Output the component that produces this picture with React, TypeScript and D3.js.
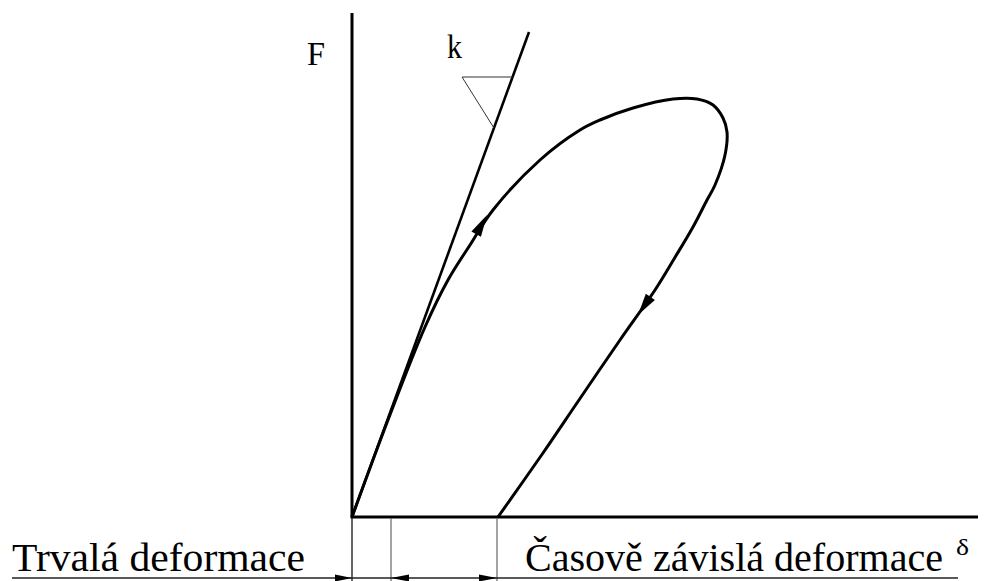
import React from "react";
import * as d3 from "d3";

// loading branch (δ, F)
const loadDelta = [0, 3.6, 7.3, 9.6, 11.8, 14.1, 18.8, 22.8, 24.8, 28.1, 32.1, 34.5, 36.1, 37.1, 37.5, 37.3, 36.3, 35.5, 34.1, 32.2, 30.3];
const loadForce = [0, 9.7, 19.0, 23.7, 27.2, 30.7, 35.7, 38.7, 39.7, 40.9, 41.8, 41.8, 41.2, 39.9, 38.5, 36.2, 33.2, 31.7, 29.0, 25.8, 22.7];
// unloading branch
const unloadDelta = [30.3, 26.8, 22.7, 19.1, 14.6];
const unloadForce = [22.7, 17.7, 11.7, 6.4, 0];
// tangent line k
const tangentDelta = [0, 17.7];
const tangentForce = [0, 48.5];
// slope triangle
const triDelta = [11.0];
const triForce = [44.0, 38.9];
// dimension marks on δ axis
const dimMarks = [0, 3.9, 14.5];
// arrows on curve: [tipδ, tipF, backδ, backF]
const arrowTips = [
  [13.5, 30.2, 11.8, 27.2],
  [28.6, 20.2, 30.3, 22.7],
];

const W = 992;
const H = 581;

export default function App() {
  const x = d3.scaleLinear().domain([0, 62.6]).range([352, 978]);
  const y = d3.scaleLinear().domain([0, 50.4]).range([517, 13]);

  const loadPts: [number, number][] = loadDelta.map((d, i) => [d, loadForce[i]]);
  const unloadPts: [number, number][] = unloadDelta.map((d, i) => [d, unloadForce[i]]);
  const allPts = loadPts.concat(unloadPts.slice(1));
  const line = d3
    .line<[number, number]>()
    .x((d) => x(d[0]))
    .y((d) => y(d[1]))
    .curve(d3.curveCatmullRom.alpha(0.5));

  const tanAt = (f: number) => (tangentDelta[1] * f) / tangentForce[1];

  const arrowPath = (tx: number, ty: number, bx: number, by: number, len: number, hw: number) => {
    const dx = tx - bx;
    const dy = ty - by;
    const L = Math.hypot(dx, dy);
    const ux = dx / L;
    const uy = dy / L;
    const px = -uy;
    const py = ux;
    const cx = tx - ux * len;
    const cy = ty - uy * len;
    return `M${tx},${ty}L${cx + px * hw},${cy + py * hw}L${cx - px * hw},${cy - py * hw}Z`;
  };

  const dimY = 578;
  const font = "'Liberation Serif', 'Times New Roman', serif";

  return (
    <svg width={W} height={H} style={{ position: "absolute", left: 0, top: 0, background: "#fff" }}>
      {/* axes */}
      <line x1={x(0)} y1={y(50.4)} x2={x(0)} y2={y(0)} stroke="#000" strokeWidth={3} />
      <line x1={x(0) - 1.5} y1={y(0)} x2={x(62.6)} y2={y(0)} stroke="#000" strokeWidth={3} />

      {/* tangent */}
      <line
        x1={x(tangentDelta[0])}
        y1={y(tangentForce[0])}
        x2={x(tangentDelta[1])}
        y2={y(tangentForce[1])}
        stroke="#000"
        strokeWidth={2.6}
      />
      {/* slope triangle */}
      <path
        d={`M${x(tanAt(triForce[0]))},${y(triForce[0])}L${x(triDelta[0])},${y(triForce[0])}L${x(tanAt(triForce[1]))},${y(triForce[1])}`}
        fill="none"
        stroke="#333"
        strokeWidth={1}
      />

      {/* hysteresis curve */}
      <path d={line(allPts) || ""} fill="none" stroke="#000" strokeWidth={3} strokeLinejoin="round" />

      {arrowTips.map((a, i) => (
        <path key={i} d={arrowPath(x(a[0]), y(a[1]), x(a[2]), y(a[3]), 22, 5.5)} fill="#000" />
      ))}

      {/* dimension lines */}
      {dimMarks.map((m, i) => (
        <line
          key={i}
          x1={x(m)}
          y1={y(0) + 1}
          x2={x(m)}
          y2={H}
          stroke={i === 0 ? "#000" : "#666"}
          strokeWidth={1.2}
        />
      ))}
      <line x1={12} y1={dimY} x2={958} y2={dimY} stroke="#222" strokeWidth={1.3} />
      <path d={arrowPath(x(dimMarks[0]), dimY, x(dimMarks[0]) - 10, dimY, 17, 3.5)} fill="#000" />
      <path d={arrowPath(x(dimMarks[1]), dimY, x(dimMarks[1]) + 10, dimY, 18, 3.5)} fill="#000" />
      <path d={arrowPath(x(dimMarks[2]), dimY, x(dimMarks[2]) - 10, dimY, 18, 3.5)} fill="#000" />

      {/* labels */}
      <text x={307} y={65} fontFamily={font} fontSize={33} textLength={18} lengthAdjust="spacingAndGlyphs">
        F
      </text>
      <text x={447} y={58} fontFamily={font} fontSize={34} textLength={15} lengthAdjust="spacingAndGlyphs">
        k
      </text>
      <text x={12} y={571} fontFamily={font} fontSize={41} textLength={293} lengthAdjust="spacingAndGlyphs">
        Trvalá deformace
      </text>
      <text x={525} y={571} fontFamily={font} fontSize={40} textLength={418} lengthAdjust="spacingAndGlyphs">
        Časově závislá deformace
      </text>
      <text x={956} y={555} fontFamily={font} fontSize={24} textLength={13} lengthAdjust="spacingAndGlyphs">
        δ
      </text>
    </svg>
  );
}
